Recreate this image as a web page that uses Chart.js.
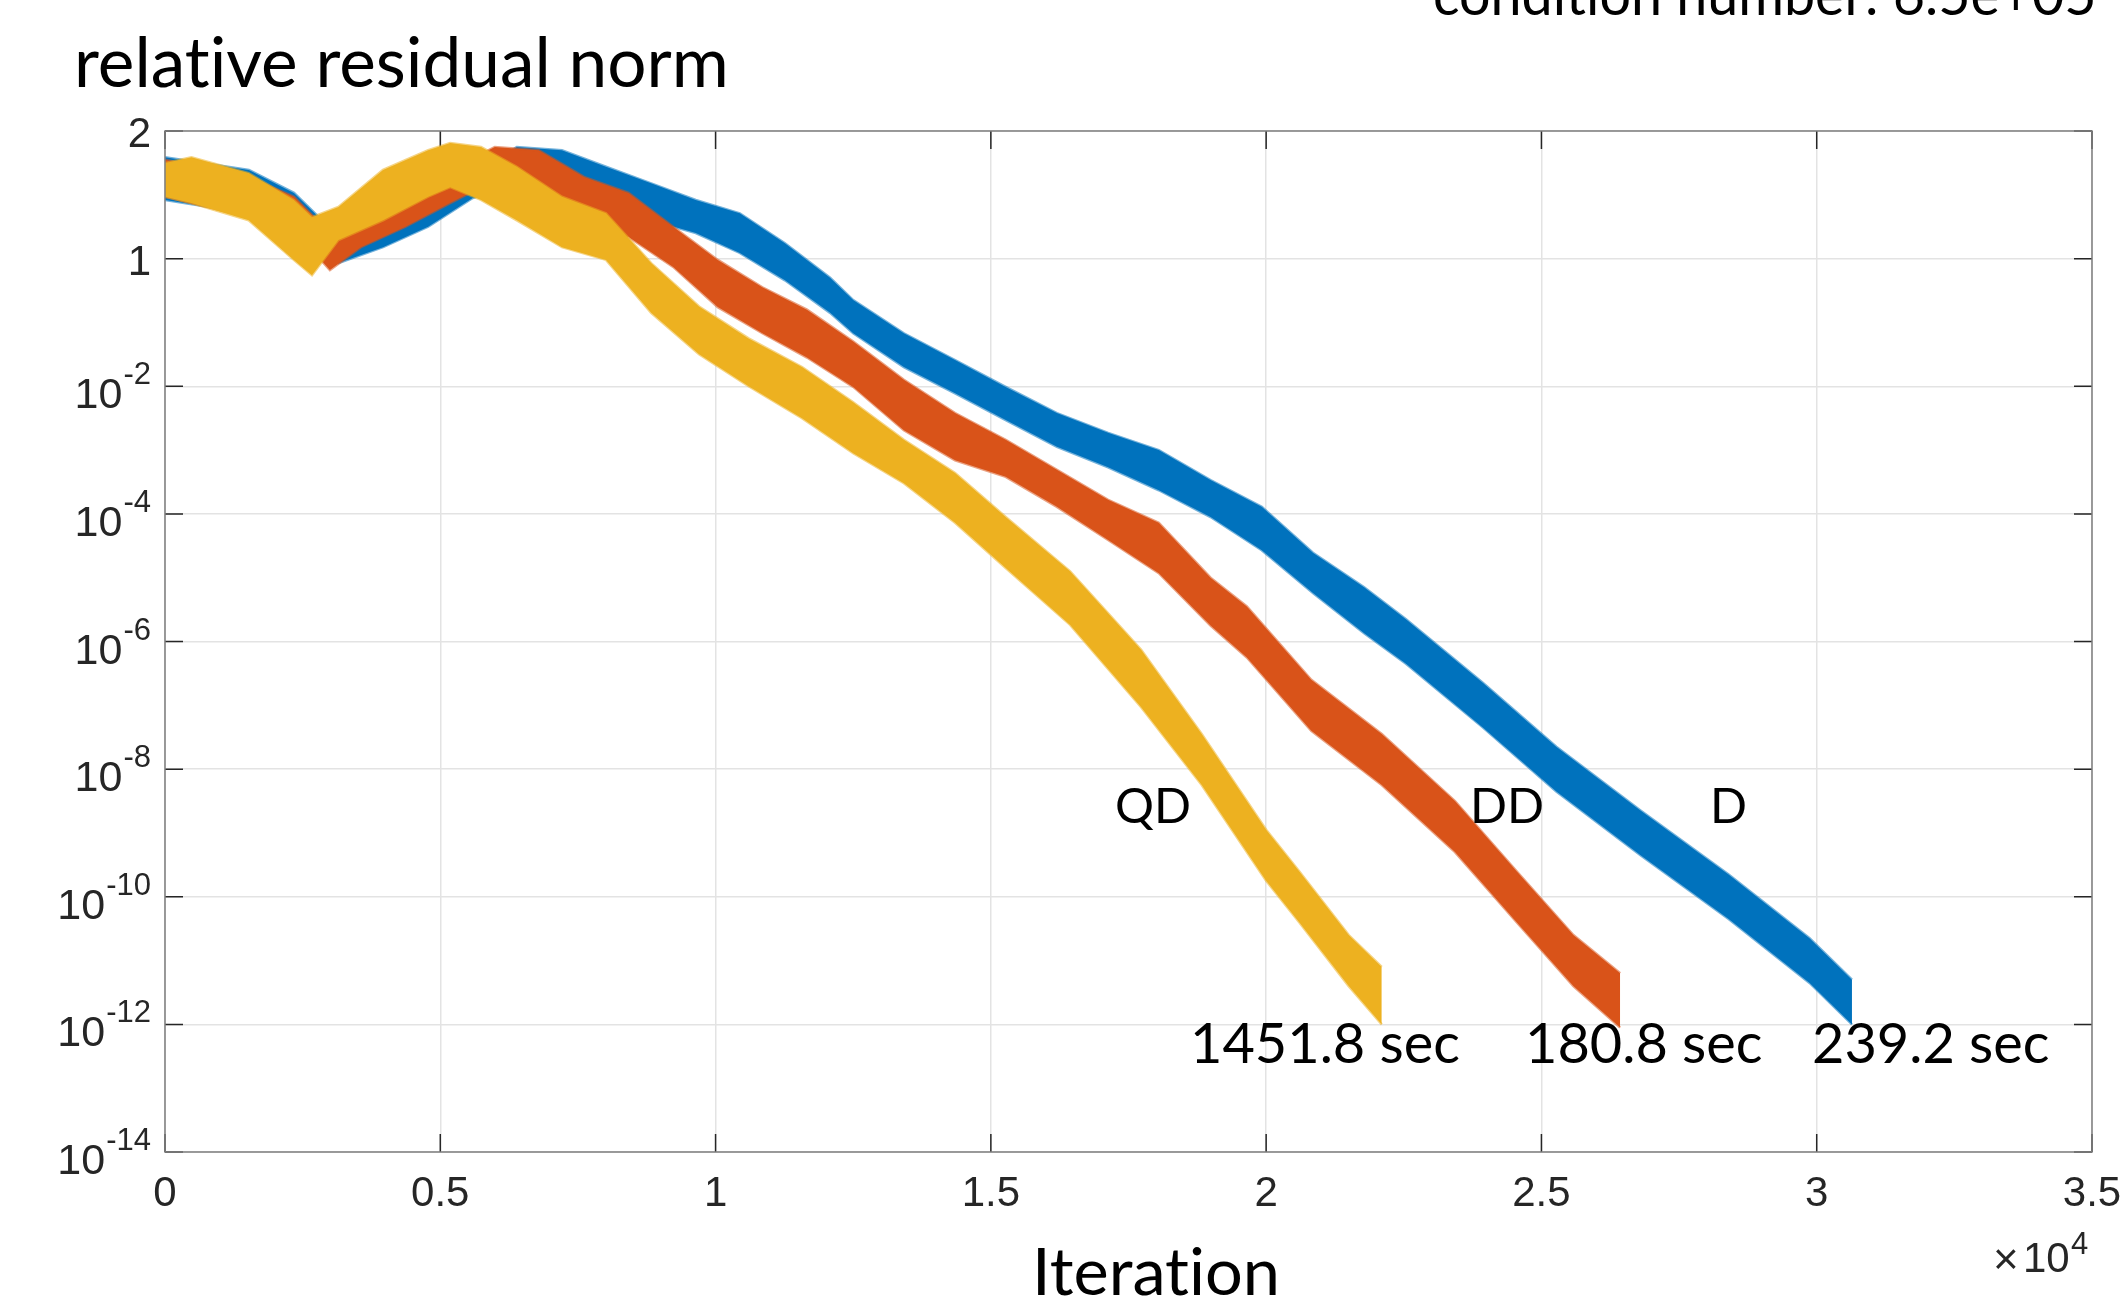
<!DOCTYPE html>
<html>
<head>
<meta charset="utf-8">
<title>relative residual norm</title>
<script src="https://cdn.jsdelivr.net/npm/chart.js@4.4.1/dist/chart.umd.min.js"></script>
<style>
  html, body { margin: 0; padding: 0; background: #fff; }
  canvas { display: block; }
</style>
</head>
<body>
<canvas id="resChart" width="2120" height="1299"></canvas>
<script>
// iterations, and log10 of the top / bottom edge of each noisy trace
const qdIter = [0, 480, 1520, 2340, 2670, 3150, 3960, 4780, 5180, 5740, 6390, 7210, 8010, 8830, 9700, 10600, 11570, 12500, 13420, 14350, 15270, 16440, 17730, 18830, 20000, 20600, 21500, 22100];
const qdHi = [1.50, 1.59, 1.34, 0.92, 0.65, 0.81, 1.39, 1.70, 1.81, 1.75, 1.44, 0.97, 0.71, -0.07, -0.75, -1.25, -1.70, -2.25, -2.84, -3.36, -4.05, -4.90, -6.13, -7.45, -8.95, -9.60, -10.60, -11.10];
const qdLo = [0.97, 0.87, 0.60, -0.02, -0.26, 0.29, 0.60, 0.97, 1.12, 0.92, 0.60, 0.18, -0.02, -0.85, -1.50, -2.00, -2.50, -3.05, -3.52, -4.14, -4.85, -5.74, -7.03, -8.25, -9.75, -10.40, -11.40, -12.00];

const ddIter = [0, 1525, 2343, 2995, 3560, 4370, 5180, 5990, 6790, 7610, 8420, 9230, 10040, 10850, 11660, 12500, 13420, 14350, 15270, 16200, 17130, 18050, 18990, 19650, 20820, 22100, 23430, 24550, 25580, 26430];
const ddHi = [1.55, 1.28, 0.97, 0.40, 0.71, 1.12, 1.39, 1.75, 1.70, 1.28, 1.03, 0.50, -0.02, -0.45, -0.80, -1.30, -1.90, -2.42, -2.84, -3.31, -3.78, -4.14, -5.00, -5.45, -6.60, -7.45, -8.50, -9.60, -10.60, -11.20];
const ddLo = [0.97, 0.65, 0.45, -0.18, 0.18, 0.50, 0.87, 1.23, 0.97, 0.50, 0.34, -0.13, -0.76, -1.17, -1.55, -2.01, -2.69, -3.16, -3.42, -3.89, -4.41, -4.93, -5.75, -6.25, -7.40, -8.25, -9.30, -10.40, -11.40, -12.05];

const dIter = [0, 1525, 2343, 3150, 3960, 4780, 5590, 6390, 7210, 8010, 8830, 9640, 10440, 11260, 12080, 12500, 13420, 14350, 15270, 16200, 17130, 18050, 18990, 19920, 20850, 21780, 22540, 23940, 25270, 26800, 28400, 29870, 30640];
const dHi = [1.59, 1.39, 1.03, 0.35, 0.60, 0.97, 1.30, 1.75, 1.70, 1.44, 1.18, 0.92, 0.71, 0.24, -0.30, -0.65, -1.17, -1.59, -2.01, -2.42, -2.73, -3.00, -3.47, -3.89, -4.61, -5.15, -5.65, -6.65, -7.65, -8.65, -9.65, -10.65, -11.30];
const dLo = [0.92, 0.71, 0.45, -0.07, 0.18, 0.50, 0.95, 1.18, 1.12, 0.81, 0.60, 0.40, 0.09, -0.34, -0.85, -1.17, -1.70, -2.11, -2.53, -2.95, -3.27, -3.63, -4.05, -4.57, -5.24, -5.87, -6.35, -7.35, -8.35, -9.35, -10.35, -11.35, -12.00];

const xTickValues = [0, 5000, 10000, 15000, 20000, 25000, 30000, 35000];
const xTickLabels = ['0', '0.5', '1', '1.5', '2', '2.5', '3', '3.5'];
const yTickExp = [-14, -12, -10, -8, -6, -4, -2, 0, 2];
const yTickLabels = [['10', '-14'], ['10', '-12'], ['10', '-10'], ['10', '-8'], ['10', '-6'], ['10', '-4'], ['10', '-2'], ['1', ''], ['2', '']];

const seriesNames = ['QD', 'DD', 'D'];
const seriesTimes = ['1451.8 sec', '180.8 sec', '239.2 sec'];

const BLUE = '#0072BD', ORANGE = '#D95319', YELLOW = '#EDB120';
const TXT = '"Lato", "Open Sans", sans-serif';
const AX = '"Liberation Sans", Arial, sans-serif';
const ZWNJ = '\u200c'; // keeps Lato from joining "ti"

function band(label, iters, hi, lo, color, edge, order) {
  const pts = arr => iters.map((it, i) => ({ x: it, y: Math.pow(10, arr[i]) }));
  return [
    { label: label, data: pts(hi), borderColor: edge, backgroundColor: color,
      borderWidth: 2.5, pointRadius: 0, fill: '+1', order: order },
    { label: label, data: pts(lo), borderColor: edge, backgroundColor: color,
      borderWidth: 2.5, pointRadius: 0, fill: false, order: order }
  ];
}

// font size that makes the text span the given width
function fitSize(ctx, text, family, width) {
  ctx.font = '100px ' + family;
  return 100 * width / ctx.measureText(text).width;
}

const decor = {
  id: 'decor',
  beforeDatasetsDraw(chart) {
    const { ctx, chartArea: a, scales: { x, y } } = chart;
    ctx.save();
    ctx.strokeStyle = '#262626';
    ctx.lineWidth = 1.5;
    ctx.beginPath();
    xTickValues.forEach(v => {
      const px = x.getPixelForValue(v);
      ctx.moveTo(px, a.bottom); ctx.lineTo(px, a.bottom - 18);
      ctx.moveTo(px, a.top); ctx.lineTo(px, a.top + 18);
    });
    yTickExp.forEach(e => {
      const py = y.getPixelForValue(Math.pow(10, e));
      ctx.moveTo(a.left, py); ctx.lineTo(a.left + 18, py);
      ctx.moveTo(a.right, py); ctx.lineTo(a.right - 18, py);
    });
    ctx.stroke();
    ctx.restore();
  },
  afterDatasetsDraw(chart) {
    const { ctx, chartArea: a } = chart;
    ctx.save();
    ctx.strokeStyle = '#7f7f7f';
    ctx.lineWidth = 1.5;
    ctx.strokeRect(a.left, a.top, a.right - a.left, a.bottom - a.top);
    ctx.restore();
  },
  afterDraw(chart) {
    const { ctx, chartArea: a, scales: { y } } = chart;
    ctx.save();
    ctx.fillStyle = '#262626';

    // y tick labels with raised exponents
    ctx.textAlign = 'right';
    ctx.textBaseline = 'alphabetic';
    const rx = a.left - 14;
    yTickExp.forEach((e, i) => {
      const py = y.getPixelForValue(Math.pow(10, e));
      const base = yTickLabels[i][0], sup = yTickLabels[i][1];
      if (!sup) {
        ctx.font = '42px ' + AX;
        ctx.fillText(base, rx, py + 16);
      } else {
        ctx.font = '31px ' + AX;
        const w = ctx.measureText(sup).width;
        ctx.fillText(sup, rx, py - 2);
        ctx.font = '43px ' + AX;
        ctx.fillText(base, rx - w - 1, py + 22);
      }
    });

    // x10^4 multiplier
    ctx.textAlign = 'left';
    ctx.font = '44px ' + AX;
    ctx.fillText('\u00d7', 1993, 1274);
    ctx.font = '42px ' + AX;
    ctx.fillText('10', 2023, 1272);
    ctx.font = '31px ' + AX;
    ctx.fillText('4', 2071, 1254);

    // titles
    ctx.fillStyle = '#000';
    const title = 'relative residual norm'.replace('ti', 't' + ZWNJ + 'i');
    ctx.font = fitSize(ctx, title, TXT, 655) + 'px ' + TXT;
    ctx.fillText(title, 74, 87);

    const cs = fitSize(ctx, 'condition', TXT, 230);
    ctx.font = cs + 'px ' + TXT;
    ctx.fillText('condi' + 't' + ZWNJ + 'ion number: 6.5e+05', 1433, 15);

    ctx.textAlign = 'center';
    const xTitle = 'Itera' + 't' + ZWNJ + 'ion';
    ctx.font = fitSize(ctx, xTitle, TXT, 248) + 'px ' + TXT;
    ctx.fillText(xTitle, 1156, 1295);

    // curve names and run times
    ctx.textAlign = 'left';
    ctx.font = fitSize(ctx, 'QD', TXT, 76) + 'px ' + TXT;
    const nameX = [1115, 1470, 1710];
    seriesNames.forEach((s, i) => ctx.fillText(s, nameX[i], 823));

    ctx.font = fitSize(ctx, seriesTimes[0], TXT, 270) + 'px ' + TXT;
    const timeX = [1190, 1525, 1812];
    seriesTimes.forEach((s, i) => ctx.fillText(s, timeX[i], 1063));

    ctx.restore();
  }
};

const gridStyle = { color: '#e3e3e3', lineWidth: 1.5, drawTicks: false };

new Chart(document.getElementById('resChart'), {
  type: 'line',
  data: {
    datasets: [].concat(
      band('QD', qdIter, qdHi, qdLo, YELLOW, 'rgba(237,177,32,0.55)', 0),
      band('DD', ddIter, ddHi, ddLo, ORANGE, 'rgba(217,83,25,0.55)', 1),
      band('D', dIter, dHi, dLo, BLUE, 'rgba(0,114,189,0.55)', 2)
    )
  },
  options: {
    responsive: false,
    animation: false,
    devicePixelRatio: 1,
    layout: { autoPadding: false, padding: { left: 0, top: 131, right: 28, bottom: 0 } },
    plugins: {
      legend: { display: false },
      tooltip: { enabled: false },
      filler: { drawTime: 'beforeDatasetDraw' }
    },
    scales: {
      x: {
        type: 'linear',
        min: 0,
        max: 35000,
        afterBuildTicks: s => { s.ticks = xTickValues.map(v => ({ value: v })); },
        afterFit: s => { s.height = 147; s.paddingLeft = 0; s.paddingRight = 0; },
        ticks: {
          autoSkip: false,
          maxRotation: 0,
          padding: 17,
          color: '#262626',
          font: { family: AX, size: 42 },
          callback: (v, i) => xTickLabels[i]
        },
        grid: gridStyle,
        border: { display: false }
      },
      y: {
        type: 'logarithmic',
        min: 1e-14,
        max: 1e2,
        afterBuildTicks: s => { s.ticks = yTickExp.map(e => ({ value: Math.pow(10, e) })); },
        afterFit: s => { s.width = 165; s.paddingTop = 0; s.paddingBottom = 0; },
        ticks: { display: false },
        grid: gridStyle,
        border: { display: false }
      }
    }
  },
  plugins: [decor]
});
</script>
</body>
</html>
